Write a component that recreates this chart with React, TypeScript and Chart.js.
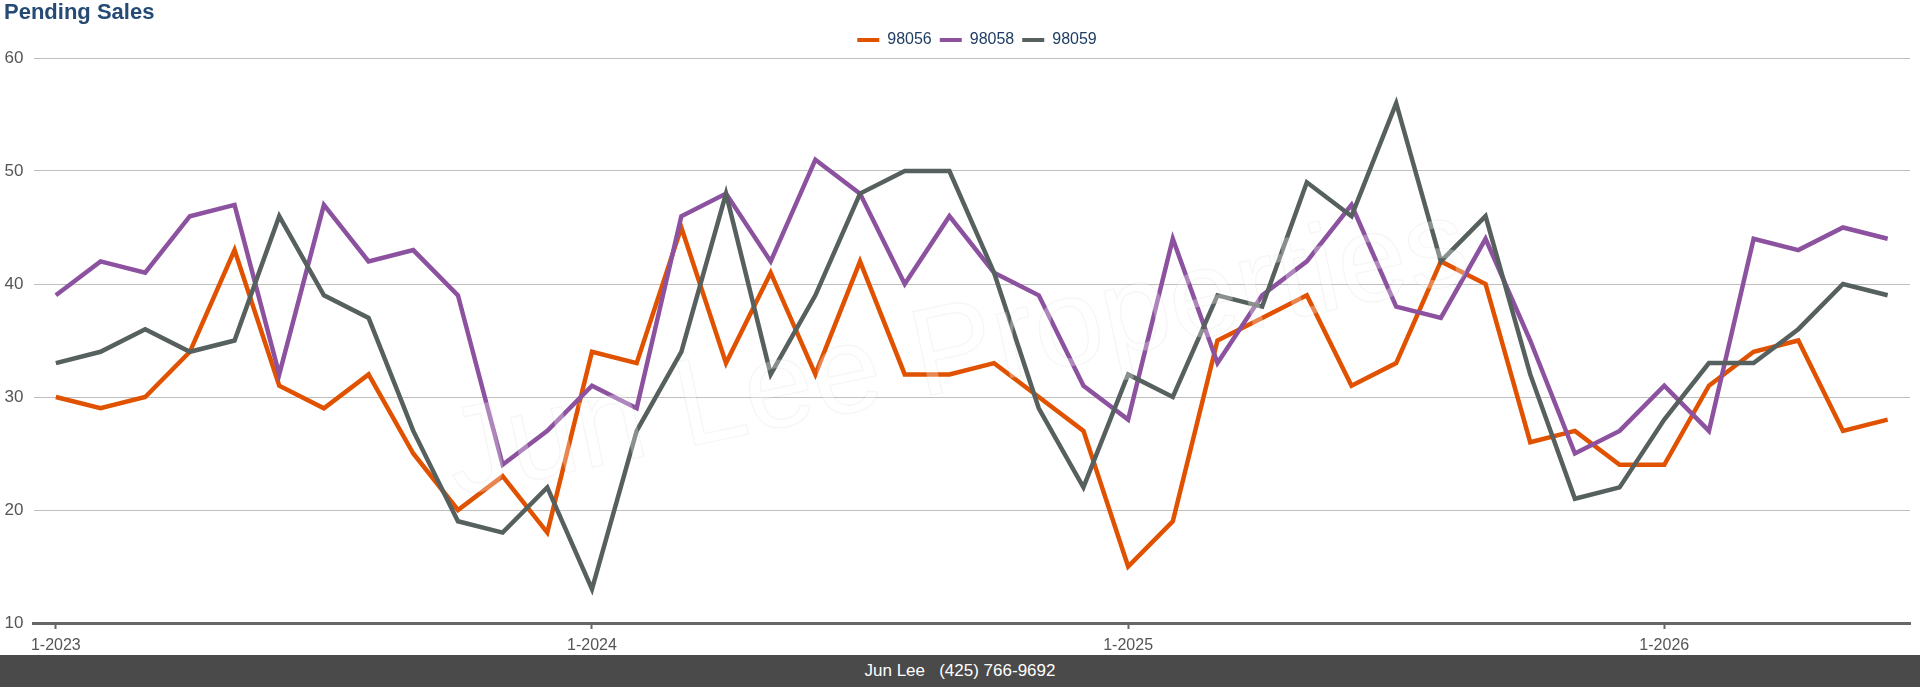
import React, { useEffect, useRef } from 'react';
import { Chart, registerables } from 'chart.js';

Chart.register(...registerables);

const FONT = '"Liberation Sans", Arial, Helvetica, sans-serif';

const months: string[] = [
  '1-2023', '2-2023', '3-2023', '4-2023', '5-2023', '6-2023', '7-2023', '8-2023', '9-2023', '10-2023', '11-2023', '12-2023',
  '1-2024', '2-2024', '3-2024', '4-2024', '5-2024', '6-2024', '7-2024', '8-2024', '9-2024', '10-2024', '11-2024', '12-2024',
  '1-2025', '2-2025', '3-2025', '4-2025', '5-2025', '6-2025', '7-2025', '8-2025', '9-2025', '10-2025', '11-2025', '12-2025',
  '1-2026', '2-2026', '3-2026', '4-2026', '5-2026', '6-2026',
];

const zip98056: number[] = [
  30, 29, 30, 34, 43, 31, 29, 32, 25, 20, 23, 18,
  34, 33, 45, 33, 41, 32, 42, 32, 32, 33, 30, 27,
  15, 19, 35, 37, 39, 31, 33, 42, 40, 26, 27, 24,
  24, 31, 34, 35, 27, 28,
];

const zip98058: number[] = [
  39, 42, 41, 46, 47, 32, 47, 42, 43, 39, 24, 27,
  31, 29, 46, 48, 42, 51, 48, 40, 46, 41, 39, 31,
  28, 44, 33, 39, 42, 47, 38, 37, 44, 35, 25, 27,
  31, 27, 44, 43, 45, 44,
];

const zip98059: number[] = [
  33, 34, 36, 34, 35, 46, 39, 37, 27, 19, 18, 22,
  13, 27, 34, 48, 32, 39, 48, 50, 50, 41, 29, 22,
  32, 30, 39, 38, 49, 46, 56, 42, 46, 32, 21, 22,
  28, 33, 33, 36, 40, 39,
];

const seriesNames: string[] = ['98056', '98058', '98059'];
const seriesColors: string[] = ['#e05200', '#8c52a0', '#56605e'];
const yTicks = { min: 10, max: 60, step: 10 };

const titleText = 'Pending Sales';
const watermarkText = 'Jun Lee Properties';
const footerText = 'Jun Lee   (425) 766-9692';

export default function App() {
  const canvasRef = useRef<HTMLCanvasElement | null>(null);

  useEffect(() => {
    document.body.style.margin = '0';
    document.body.style.overflow = 'hidden';
    const canvas = canvasRef.current;
    if (!canvas) return;

    const watermark = {
      id: 'watermark',
      afterDatasetsDraw(chart: any) {
        const { ctx, chartArea } = chart;
        const cx = (chartArea.left + chartArea.right) / 2 - 14;
        const cy = (chartArea.top + chartArea.bottom) / 2 + 14;
        ctx.save();
        ctx.translate(cx, cy);
        ctx.rotate((-12 * Math.PI) / 180);
        ctx.font = `124px ${FONT}`;
        ctx.textAlign = 'center';
        ctx.textBaseline = 'middle';
        ctx.fillStyle = 'rgba(255,255,255,0.3)';
        ctx.fillText(watermarkText, 0, 0);
        ctx.strokeStyle = 'rgba(0,0,0,0.035)';
        ctx.lineWidth = 1.5;
        ctx.strokeText(watermarkText, 0, 0);
        ctx.restore();
      },
    };

    const legendShift = {
      id: 'legendShift',
      afterLayout(chart: any) {
        const l = chart.legend;
        if (l) {
          l.left += 20;
          l.right += 20;
        }
      },
    };

    const datasets = [zip98056, zip98058, zip98059].map((data, i) => ({
      label: seriesNames[i],
      data,
      borderColor: seriesColors[i],
      backgroundColor: seriesColors[i],
      borderWidth: 4.5,
      pointRadius: 0,
      pointHoverRadius: 0,
      tension: 0,
      fill: false,
      order: 2 - i,
    }));

    const chart = new Chart(canvas, {
      type: 'line',
      data: { labels: months, datasets },
      plugins: [watermark, legendShift],
      options: {
        animation: false,
        responsive: false,
        devicePixelRatio: 1,
        layout: { padding: { left: 4, right: 10, top: 0, bottom: 0 } },
        plugins: {
          tooltip: { enabled: false },
          title: {
            display: true,
            text: titleText,
            align: 'start',
            color: '#254a73',
            font: { family: FONT, size: 22, weight: 'bold', lineHeight: 1 },
            padding: { top: 2, bottom: 0 },
          },
          legend: {
            display: true,
            position: 'top',
            align: 'center',
            labels: {
              boxWidth: 22,
              boxHeight: 4,
              padding: 8,
              color: '#1f3d63',
              font: { family: FONT, size: 16 },
              generateLabels: (c: any) =>
                c.data.datasets.map((d: any, i: number) => ({
                  text: d.label,
                  fillStyle: d.borderColor,
                  strokeStyle: d.borderColor,
                  lineWidth: 0,
                  hidden: false,
                  datasetIndex: i,
                  fontColor: '#1f3d63',
                })),
            },
          },
        },
        scales: {
          x: {
            type: 'category',
            offset: true,
            afterFit: (scale: any) => {
              scale.height = 32;
            },
            border: { display: true, color: '#666666', width: 3 },
            grid: {
              drawOnChartArea: false,
              drawTicks: true,
              tickLength: 6,
              tickWidth: 2,
              tickColor: '#666666',
            },
            ticks: {
              autoSkip: false,
              maxRotation: 0,
              padding: 7,
              color: '#555555',
              font: { family: FONT, size: 16 },
              callback: (_v: any, idx: number) => (months[idx].startsWith('1-') ? months[idx] : null),
            },
          },
          y: {
            min: yTicks.min,
            max: yTicks.max,
            afterFit: (scale: any) => {
              scale.width = 29.5;
            },
            border: { display: false },
            grid: { color: '#bfbfbf', lineWidth: 1, drawTicks: false },
            ticks: {
              stepSize: yTicks.step,
              padding: 10,
              color: '#555555',
              font: { family: FONT, size: 17 },
            },
          },
        },
      },
    });

    return () => chart.destroy();
  }, []);

  return (
    <div style={{ width: 1920, height: 687, position: 'relative', overflow: 'hidden', background: '#fff' }}>
      <canvas ref={canvasRef} width={1920} height={655} style={{ display: 'block', width: 1920, height: 655 }} />
      <div
        style={{
          height: 32,
          background: '#4a4a4a',
          color: '#ffffff',
          fontFamily: FONT,
          fontSize: 17,
          lineHeight: '32px',
          textAlign: 'center',
          whiteSpace: 'pre',
        }}
      >
        {footerText}
      </div>
    </div>
  );
}
